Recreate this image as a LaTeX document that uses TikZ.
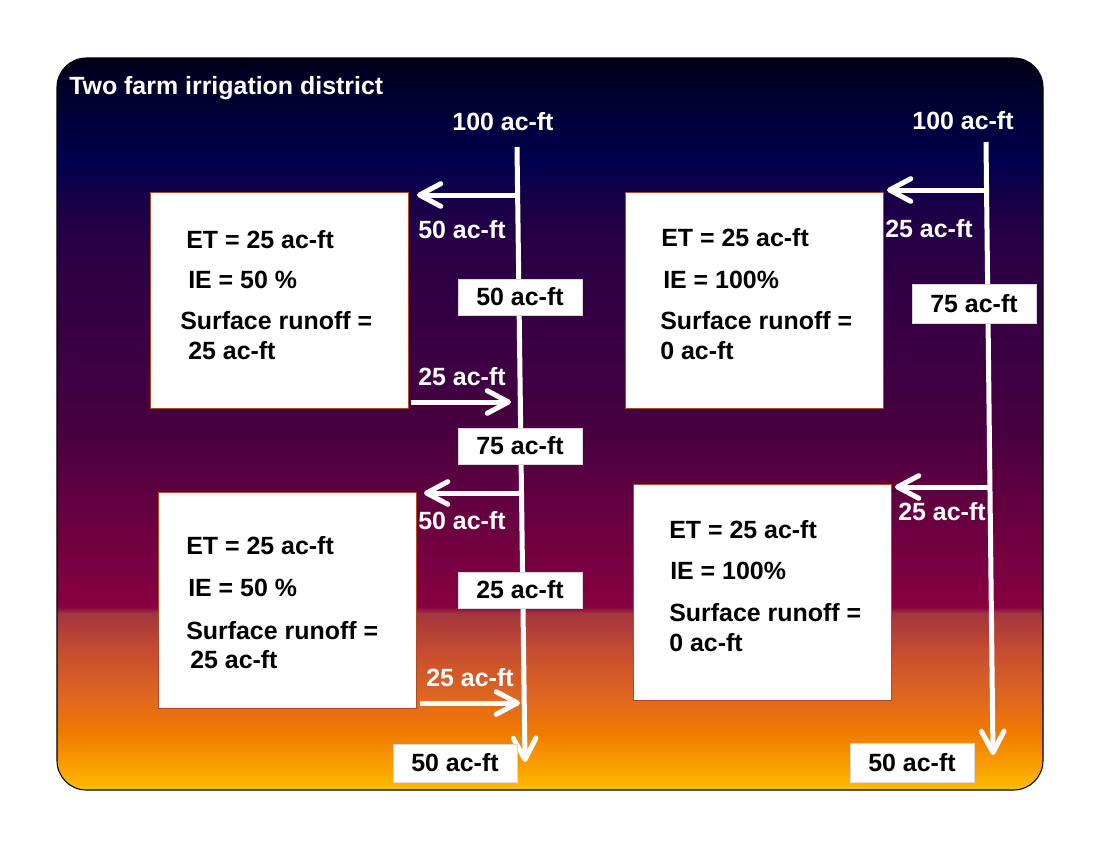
\documentclass[tikz,border=0pt]{standalone}
\usepackage{fontspec}
\setmainfont{Liberation Sans}
\usetikzlibrary{arrows.meta}

\definecolor{rim}{HTML}{B04A22}
\definecolor{s01}{HTML}{FFBE00}
\definecolor{s02}{HTML}{FBA300}
\definecolor{s03}{HTML}{F07800}
\definecolor{s04}{HTML}{E06820}
\definecolor{s05}{HTML}{C54C30}
\definecolor{s06}{HTML}{A23540}
\definecolor{s07}{HTML}{880040}
\definecolor{s08}{HTML}{700040}
\definecolor{s09}{HTML}{5A0040}
\definecolor{s10}{HTML}{480040}
\definecolor{s11}{HTML}{3A0042}
\definecolor{s12}{HTML}{2A0045}
\definecolor{s13}{HTML}{120048}
\definecolor{s14}{HTML}{000050}
\definecolor{s15}{HTML}{00003A}
\definecolor{s16}{HTML}{000018}
\pgfdeclareverticalshading{dusk}{100bp}{color(0bp)=(s01); color(25bp)=(s01);
  color(26.4bp)=(s02); color(29.1bp)=(s03); color(31.2bp)=(s04);
  color(34.6bp)=(s05); color(37.1bp)=(s06); color(37.5bp)=(s07);
  color(42.1bp)=(s08); color(46.2bp)=(s09); color(49.6bp)=(s10);
  color(55.1bp)=(s11); color(61.9bp)=(s12); color(66bp)=(s13);
  color(67.7bp)=(s14); color(70.8bp)=(s15); color(75bp)=(s16); color(100bp)=(s16)}

\begin{document}
\begin{tikzpicture}[x=0.75pt,y=-0.75pt,
  every node/.style={font=\fontsize{18.7}{22}\selectfont\bfseries},
  Farm/.style={draw=rim,line width=1.1pt,fill=white,anchor=north west,
    minimum width=193.5pt,minimum height=162pt,inner sep=0pt},
  Tag/.style={fill=white,draw=white!85!black,line width=0.5pt,
    minimum width=93pt,minimum height=27pt,inner sep=0pt},
  Note/.style={text=white},
  Line/.style={anchor=west,inner sep=0pt},
  Flow/.style={draw=white,line width=3.75pt,
    -{Straight Barb[length=16pt,width=17pt,line cap=round,line join=round]}}]
  \useasboundingbox (0,0) rectangle (1100,850);
  \shadedraw[shading=dusk,draw=black,line width=0.8pt,rounded corners=22pt]
    (57,58) rectangle (1043,790);
  \node[Note,anchor=west,inner sep=0pt] (title) at (69,88) {Two farm irrigation district};

  % farm 1 (upper left)
  \node[Farm] (farmA) at (150,192) {};
  \node[Line] (etA) at (186,240) {ET = 25 ac-ft};
  \node[Line] (ieA) at (188,280) {IE = 50 \%};
  \node[Line] (srA) at (180,321) {Surface runoff =};
  \node[Line] (roA) at (188,351) {25 ac-ft};
  % farm 2 (lower left)
  \node[Farm] (farmB) at (158,492) {};
  \node[Line] (etB) at (186,546) {ET = 25 ac-ft};
  \node[Line] (ieB) at (188,588) {IE = 50 \%};
  \node[Line] (srB) at (186,631) {Surface runoff =};
  \node[Line] (roB) at (190,660) {25 ac-ft};
  % farm 1 (upper right)
  \node[Farm] (farmC) at (625,192) {};
  \node[Line] (etC) at (661,238) {ET = 25 ac-ft};
  \node[Line] (ieC) at (663,280) {IE = 100\%};
  \node[Line] (srC) at (660,321) {Surface runoff =};
  \node[Line] (roC) at (660,351) {0 ac-ft};
  % farm 2 (lower right)
  \node[Farm] (farmD) at (633,484) {};
  \node[Line] (etD) at (669,530) {ET = 25 ac-ft};
  \node[Line] (ieD) at (670,571) {IE = 100\%};
  \node[Line] (srD) at (669,613) {Surface runoff =};
  \node[Line] (roD) at (669,643) {0 ac-ft};

  % left canal
  \node[Note] (inL) at (503,122) {100 ac-ft};
  \coordinate (topL) at (517,147);
  \coordinate (endL) at (525,762);
  \coordinate (offA) at (517.6,195);
  \coordinate (toA) at (417,195);
  \coordinate (fromA) at (411,402);
  \coordinate (backA) at (511,402);
  \coordinate (offB) at (521.5,493);
  \coordinate (toB) at (424,493);
  \coordinate (fromB) at (420,703);
  \coordinate (backB) at (520,703);
  \draw[Flow] (topL) -- (endL);
  \draw[Flow] (offA) -- (toA);
  \draw[Flow] (fromA) -- (backA);
  \draw[Flow] (offB) -- (toB);
  \draw[Flow] (fromB) -- (backB);
  \node[Note] (qA) at (462,230) {50 ac-ft};
  \node[Note] (rA) at (462,377) {25 ac-ft};
  \node[Note] (qB) at (462,521) {50 ac-ft};
  \node[Note] (rB) at (470,678) {25 ac-ft};
  \node[Tag] (l1) at (520,297) {50 ac-ft};
  \node[Tag] (l2) at (520,446) {75 ac-ft};
  \node[Tag] (l3) at (520,590) {25 ac-ft};
  \node[Tag,minimum height=28.5pt] (l4) at (455,763) {50 ac-ft};

  % right canal
  \node[Note] (inR) at (963,121) {100 ac-ft};
  \coordinate (topR) at (986,142);
  \coordinate (endR) at (993,755);
  \coordinate (offC) at (987,190);
  \coordinate (toC) at (887,190);
  \coordinate (offD) at (990,487);
  \coordinate (toD) at (895,487);
  \draw[Flow] (topR) -- (endR);
  \draw[Flow] (offC) -- (toC);
  \draw[Flow] (offD) -- (toD);
  \node[Note] (qC) at (929,229) {25 ac-ft};
  \node[Note] (qD) at (942,512) {25 ac-ft};
  \node[Tag,minimum height=29pt] (r1) at (974,304) {75 ac-ft};
  \node[Tag,minimum height=29pt] (r2) at (912,763) {50 ac-ft};
\end{tikzpicture}
\end{document}
